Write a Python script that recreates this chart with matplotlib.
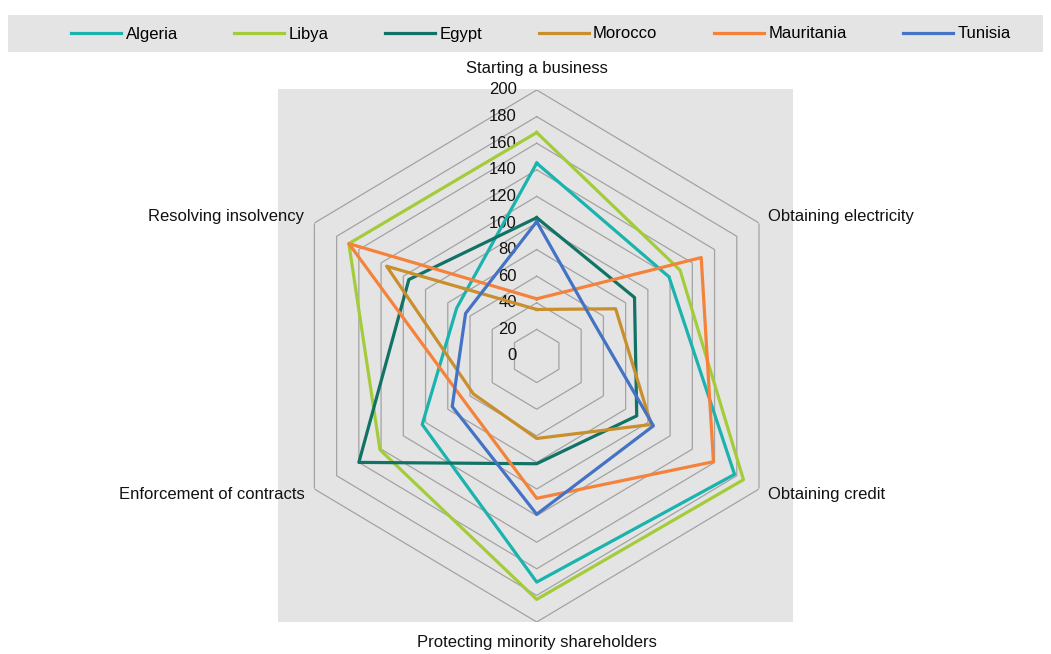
import numpy as np
import matplotlib
matplotlib.use("Agg")
import matplotlib.pyplot as plt
from matplotlib.patches import Rectangle

plt.rcParams['font.family'] = ['Liberation Sans Narrow', 'Liberation Sans', 'DejaVu Sans']

categories = ["Starting a business", "Obtaining electricity", "Obtaining credit",
              "Protecting minority shareholders", "Enforcement of contracts",
              "Resolving insolvency"]
countries = ["Algeria", "Libya", "Egypt", "Morocco", "Mauritania", "Tunisia"]
algeria = [145, 119, 178, 170, 103, 72]
libya = [168, 129, 186, 183, 141, 169]
egypt = [104, 88, 90, 81, 160, 115]
morocco = [35, 71, 103, 62, 57, 135]
mauritania = [43, 148, 159, 107, 66, 169]
tunisia = [101, 51, 105, 119, 76, 64]
series = [algeria, libya, egypt, morocco, mauritania, tunisia]
colors = ["#1ab3ae", "#a4cc3a", "#117266", "#c88f2c", "#f5823a", "#4472c4"]
ticks = [0, 20, 40, 60, 80, 100, 120, 140, 160, 180, 200]

W, H = 1051, 654
fig = plt.figure(figsize=(W / 100, H / 100), dpi=100)
fig.patch.set_facecolor("white")

# plot area background
px0, px1, py0, py1 = 278, 793, 89, 622
fig.patches.append(Rectangle((px0 / W, 1 - py1 / H), (px1 - px0) / W, (py1 - py0) / H,
                             transform=fig.transFigure, facecolor="#e4e4e4",
                             edgecolor="none", zorder=-5))
# legend band
fig.patches.append(Rectangle((8 / W, 1 - 52 / H), (1043 - 8) / W, (52 - 15) / H,
                             transform=fig.transFigure, facecolor="#e4e4e4",
                             edgecolor="none", zorder=-5))

cx, cy = 536.7, 356
rx, ry = 256.7, 266
ax = fig.add_axes([(cx - rx) / W, 1 - (cy + ry) / H, 2 * rx / W, 2 * ry / H],
                  projection="polar", zorder=2)
ax.set_aspect("auto")
ax.patch.set_alpha(0)
ax.set_theta_zero_location("N")
ax.set_theta_direction(-1)
ax.set_ylim(0, 200)
ax.grid(False)
ax.spines["polar"].set_visible(False)
ax.set_xticks([])
ax.set_yticks([])

n = len(categories)
theta = np.arange(n) * 2 * np.pi / n
theta_c = np.append(theta, theta[0])

for r in ticks[1:]:
    ax.plot(theta_c, [r] * (n + 1), color="#a3a3a3", lw=0.9, zorder=1)

FS = 12
for r in ticks:
    ax.annotate(str(r), xy=(0, r), xytext=(-20, 0), textcoords="offset pixels",
                ha="right", va="center", fontsize=FS, color="#111111",
                annotation_clip=False)

for name, vals, col in zip(countries, series, colors):
    v = np.append(vals, vals[0])
    ax.plot(theta_c, v, color=col, lw=2.3, label=name, zorder=3)

offsets = [(0, 22, "center", "center"), (9, 6, "left", "center"),
           (9, -5, "left", "center"), (0, -21, "center", "center"),
           (-10, -5, "right", "center"), (-10, 6, "right", "center")]
for t, lab, (dx, dy, ha, va) in zip(theta, categories, offsets):
    ax.annotate(lab, xy=(t, 200), xytext=(dx, dy), textcoords="offset pixels",
                ha=ha, va=va, fontsize=FS, color="#111111", annotation_clip=False)

handles, labels = ax.get_legend_handles_labels()
fig.legend(handles, labels, loc="center", bbox_to_anchor=(541 / W, 1 - 34 / H),
           ncol=6, frameon=False, fontsize=FS, handlelength=3.0,
           handletextpad=0.25, columnspacing=3.4)

fig.savefig("out.png", dpi=100)
